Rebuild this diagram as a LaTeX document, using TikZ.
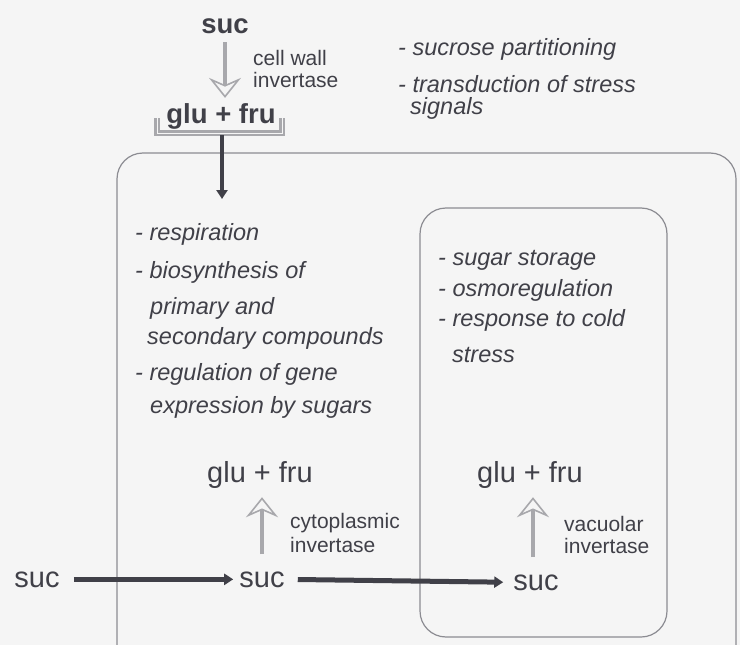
\documentclass[tikz,border=0pt]{standalone}
\usepackage{fontspec}
\setmainfont{Liberation Sans}
\usepackage{tikz}
\usetikzlibrary{arrows.meta,positioning}

\definecolor{ink}{RGB}{64,64,72}
\definecolor{wallgray}{RGB}{140,140,146}
\definecolor{paleink}{RGB}{168,168,172}
\definecolor{paper}{RGB}{245,245,245}

\begin{document}
\begin{tikzpicture}[
  x=1pt, y=-1pt,
  >=Stealth,
  sugar/.style={text=ink, font=\fontsize{29}{34}\selectfont, inner sep=0pt, anchor=base},
  topsugar/.style={sugar, font=\fontsize{27.5}{32}\selectfont\bfseries},
  role/.style={text=ink, font=\fontsize{23.5}{28}\selectfont\itshape, inner sep=0pt, anchor=base west},
  enzyme/.style={text=ink, font=\fontsize{21}{24}\selectfont, inner sep=0pt, anchor=base west},
  membrane/.style={draw=wallgray, line width=1.2pt, rounded corners=26pt},
  hydro/.style={draw=paleink, line width=3.5pt, -{Stealth[open, length=20pt, width=32pt, inset=7pt, line width=1.6pt]}},
  flux/.style={draw=ink, line width=5pt, -{Triangle[length=9pt, width=11pt]}},
]
\useasboundingbox (0,0) rectangle (740,645);
\fill[paper] (0,0) rectangle (740,645);

% Cell and vacuole
\draw[membrane] (117,650) |- (736,153) -- (736,650);
\draw[membrane] (420,208) rectangle (667,637);

% Apoplast
\node[topsugar] (sucTop) at (225,33) {suc};
\node[topsugar] (gfTop) at (221,123) {glu + fru};
\node[enzyme] (cwA) at (253,65) {cell wall};
\node[enzyme] (cwB) at (253,87) {invertase};
\draw[hydro, shorten <=9pt, shorten >=5pt] (sucTop.south) -- (sucTop.south |- gfTop.north);
\draw[draw=paleink, line width=2.6pt, double=paper, double distance=0.8pt]
  (157,118) -- (157,133) -- (282,133) -- (282,118);
\coordinate (gfBar) at (222,135);
\coordinate (inflow) at (222,199);
\draw[flux, line width=4.5pt] (gfBar) -- (inflow);

\node[role] (apoA) at (398,55) {- sucrose partitioning};
\node[role] (apoB) at (398,92) {- transduction of stress};
\node[role] (apoC) at (410,114) {signals};

% Cytoplasm
\node[role] (cytA) at (135,240) {- respiration};
\node[role] (cytB) at (135,278) {- biosynthesis of};
\node[role] (cytC) at (150,314) {primary and};
\node[role] (cytD) at (147,344) {secondary compounds};
\node[role] (cytE) at (135,380) {- regulation of gene};
\node[role] (cytF) at (150,413) {expression by sugars};

% Vacuole
\node[role] (vacA) at (438,265) {- sugar storage};
\node[role] (vacB) at (438,296) {- osmoregulation};
\node[role] (vacC) at (438,326) {- response to cold};
\node[role] (vacD) at (452,362) {stress};

% Hydrolysis
\node[sugar] (gfCyt) at (260,482) {glu + fru};
\node[sugar] (gfVac) at (530,482) {glu + fru};
\node[enzyme] (ciA) at (290,528) {cytoplasmic};
\node[enzyme] (ciB) at (290,552) {invertase};
\node[enzyme] (viA) at (564,531) {vacuolar};
\node[enzyme] (viB) at (564,553) {invertase};

\node[sugar] (sucIn) at (37,587) {suc};
\node[sugar] (sucMid) at (262,587) {suc};
\node[sugar] (sucVac) at (536,590) {suc};

\draw[hydro, shorten <=17pt, shorten >=9pt] (sucMid.north) -- (sucMid.north |- gfCyt.south);
\draw[hydro, shorten <=17pt, shorten >=9pt] ([xshift=-3pt]sucVac.north) -- ([xshift=-3pt]sucVac.north |- gfVac.south);

% Transport
\draw[flux, shorten <=14pt, shorten >=6pt] (sucIn.east) -- (sucMid.west);
\draw[flux, shorten <=13pt, shorten >=10pt] (sucMid.east) -- (sucVac.west);
\end{tikzpicture}
\end{document}
